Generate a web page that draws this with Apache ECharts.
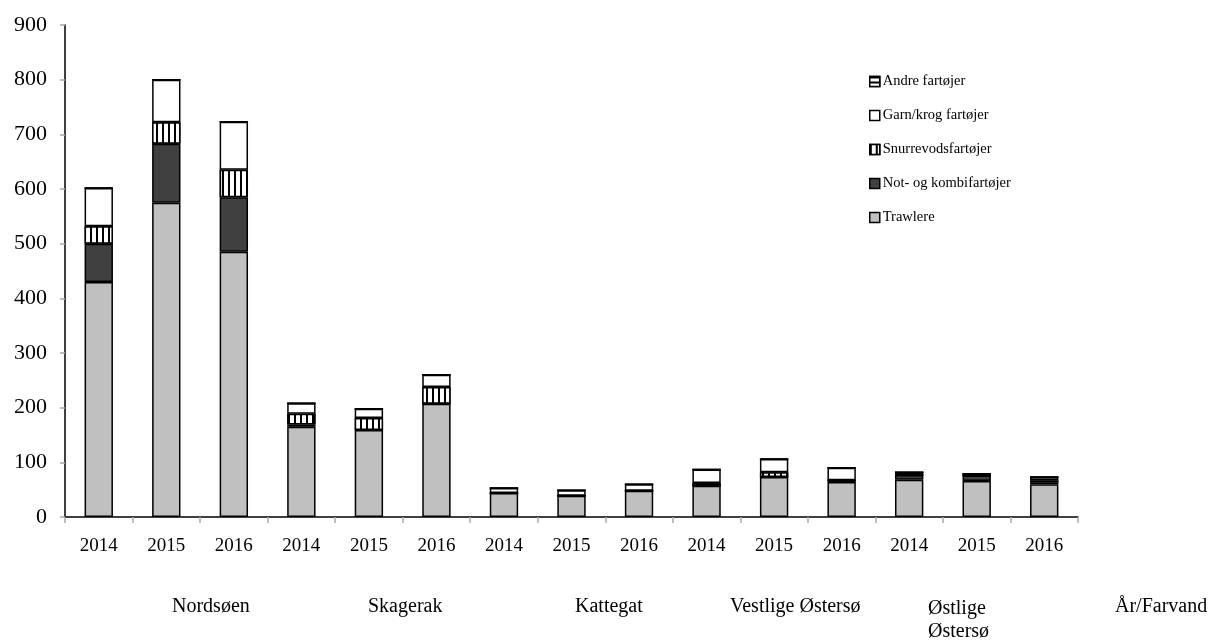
<!DOCTYPE html>
<html>
<head>
<meta charset="utf-8">
<script src="https://cdn.jsdelivr.net/npm/echarts@6/dist/echarts.min.js"></script>
<style>
html,body{margin:0;padding:0;background:#fff;}
#chart{width:1219px;height:642px;}
</style>
</head>
<body>
<div id="chart"></div>
<script>
const years = ['2014','2015','2016','2014','2015','2016','2014','2015','2016','2014','2015','2016','2014','2015','2016'];
const regions = ['Nordsøen','Skagerak','Kattegat','Vestlige Østersø','Østlige\nØstersø'];
const trawlere = [430,575,485,165,159,207,44,39,48,57,73,64,68,66,60];
const notKombi = [70,108,100,4,0,0,0,0,0,0,0,3,9,10,3];
const snurrevod = [32,39,50,20,22,31,0,0,0,5,9,0,0,0,4];
const garnKrog = [70,78,88,19,17,22,9,10,12,25,24,23,5,3,6];
const andre = [0,0,0,0,0,0,0,0,0,0,0,0,0,0,0];
const yTicks = {min:0, max:900, interval:100};

const FONT = '"Liberation Serif", "DejaVu Serif", serif';
const border = {borderColor:'#000', borderWidth:1.5};

function mk(name, data, style){
  return {name:name, type:'bar', stack:'total', data:data, barWidth:'42%',
          itemStyle:Object.assign({}, border, style), emphasis:{disabled:true}};
}

const chart = echarts.init(document.getElementById('chart'), null, {renderer:'canvas'});
chart.setOption({
  animation:false,
  backgroundColor:'#fff',
  grid:{left:65, right:141, top:25, bottom:125, containLabel:false},
  legend:{
    orient:'vertical', left:864, top:69, itemWidth:10, itemHeight:10, itemGap:19, icon:'rect',
    data:['Andre fartøjer','Garn/krog fartøjer','Snurrevodsfartøjer','Not- og kombifartøjer','Trawlere'],
    textStyle:{fontFamily:FONT, fontSize:14.5, color:'#000', padding:[0,0,0,-2]},
    itemStyle:{borderColor:'#000', borderWidth:1.5}
  },
  xAxis:{
    type:'category', data:years,
    axisLine:{lineStyle:{color:'#000', width:1.5}},
    axisTick:{show:true, length:6, lineStyle:{color:'#aaa', width:1.5}},
    axisLabel:{fontFamily:FONT, fontSize:19, color:'#000', margin:20, interval:0}
  },
  yAxis:{
    type:'value', min:yTicks.min, max:yTicks.max, interval:yTicks.interval,
    splitLine:{show:false},
    axisLine:{show:true, lineStyle:{color:'#000', width:1.5}},
    axisTick:{show:true, length:5, lineStyle:{color:'#aaa', width:1.5}},
    axisLabel:{fontFamily:FONT, fontSize:22, color:'#000', margin:18}
  },
  graphic:[
    {type:'text', left:172, top:597, style:{text:regions[0], font:'20px '+FONT, fill:'#000'}},
    {type:'text', left:368, top:597, style:{text:regions[1], font:'20px '+FONT, fill:'#000'}},
    {type:'text', left:575, top:597, style:{text:regions[2], font:'20px '+FONT, fill:'#000'}},
    {type:'text', left:730, top:597, style:{text:regions[3], font:'20px '+FONT, fill:'#000'}},
    {type:'text', left:928, top:597, style:{text:regions[4], font:'20px '+FONT, fill:'#000', lineHeight:23}},
    {type:'text', left:1115, top:597, style:{text:'År/Farvand', font:'20px '+FONT, fill:'#000'}}
  ],
  series:[
    mk('Trawlere', trawlere, {color:'#c0c0c0'}),
    mk('Not- og kombifartøjer', notKombi, {color:'#404040'}),
    mk('Snurrevodsfartøjer', snurrevod, {color:'#fff', decal:{symbol:'rect', symbolSize:1, color:'#000', backgroundColor:'#fff', dashArrayX:[2,4], dashArrayY:[6,0]}}),
    mk('Garn/krog fartøjer', garnKrog, {color:'#fff'}),
    mk('Andre fartøjer', andre, {color:'#fff', decal:{symbol:'rect', symbolSize:1, color:'#000', backgroundColor:'#fff', dashArrayX:[6,0], dashArrayY:[2,3]}})
  ]
});
</script>
</body>
</html>
